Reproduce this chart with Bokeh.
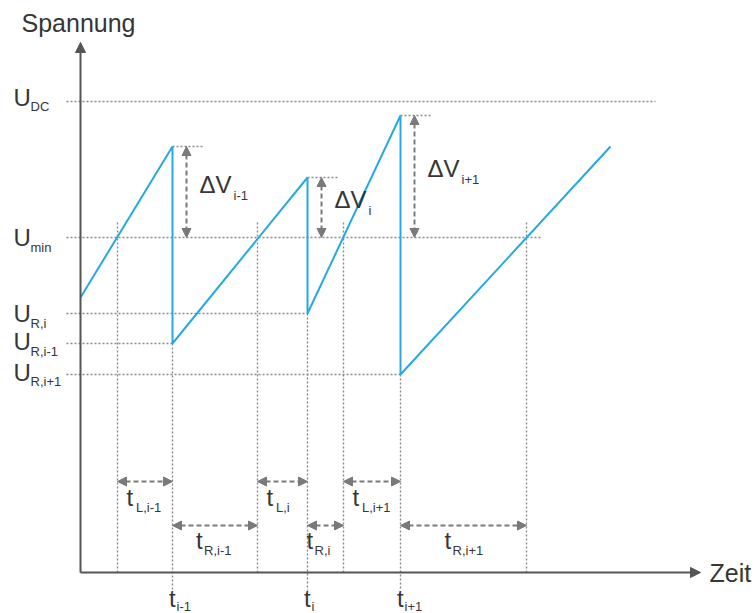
from bokeh.plotting import figure
from bokeh.models import Range1d, Arrow, NormalHead, ColumnDataSource
from bokeh.core.properties import value
from bokeh.embed import file_html
from bokeh.resources import INLINE

# Schematic voltage waveform (arbitrary units, origin at the axis crossing)
t_switch = [9.2, 22.7, 32.0]          # t_{i-1}, t_i, t_{i+1}
t_begin = 0.0
t_finish = 53.0
u_begin = 27.5
u_finish = 42.6
u_dc = 47.1
u_min = 33.5
u_peak = [42.6, 39.5, 45.7]           # voltage just before each switching instant
u_reset = [22.9, 25.9, 19.8]          # U_R,i-1, U_R,i, U_R,i+1
t_cross = [3.7, 17.7, 26.3, 44.6]     # instants where the ramp reaches U_min
switch_names = ["i-1", "i", "i+1"]
reset_names = ["R,i-1", "R,i", "R,i+1"]
left_names = ["L,i-1", "L,i", "L,i+1"]
delta_names = ["i-1", "i", "i+1"]

FONT = value("Liberation Sans")
TEXT = "#363636"
BLUE = "#26a9e1"
GREY = "#8a8a8a"
DARK = "#555555"

p = figure(width=755, height=613, output_backend="svg", toolbar_location=None,
           x_range=Range1d(-8.0, 67.5), y_range=Range1d(-4.1, 57.2),
           min_border=0)
p.axis.visible = False
p.grid.visible = False
p.outline_line_color = None
p.background_fill_color = "white"

dot = dict(line_color=GREY, line_width=1.4, line_dash="2 2")

# horizontal reference levels
p.segment(x0=[-1.4], y0=[u_dc], x1=[57.5], y1=[u_dc], **dot)
p.segment(x0=[-1.4], y0=[u_min], x1=[46.0], y1=[u_min], **dot)
for ts, ur in zip(t_switch, u_reset):
    p.segment(x0=[-1.4], y0=[ur], x1=[ts], y1=[ur], **dot)

# peak markers
for ts, up in zip(t_switch, u_peak):
    p.segment(x0=[ts], y0=[up], x1=[ts + 3.0], y1=[up], **dot)

# vertical guides at the switching instants and at the U_min crossings
for ts, ur in zip(t_switch, u_reset):
    p.segment(x0=[ts], y0=[ur], x1=[ts], y1=[-1.8], **dot)
for tc in t_cross:
    p.segment(x0=[tc], y0=[u_min + 1.5], x1=[tc], y1=[0], **dot)

# waveform
wx = [t_begin]
wy = [u_begin]
for ts, up, ur in zip(t_switch, u_peak, u_reset):
    wx += [ts, ts]
    wy += [up, ur]
wx.append(t_finish)
wy.append(u_finish)
p.line(wx, wy, line_color=BLUE, line_width=2)

# axes with arrow heads
p.add_layout(Arrow(x_start=0, y_start=0, x_end=0, y_end=53.0,
                   line_color=DARK, line_width=2,
                   end=NormalHead(size=10, fill_color=DARK, line_color=DARK)))
p.add_layout(Arrow(x_start=0, y_start=0, x_end=62.0, y_end=0,
                   line_color=DARK, line_width=2,
                   end=NormalHead(size=10, fill_color=DARK, line_color=DARK)))


def dim_arrow(x0, y0, x1, y1):
    p.add_layout(Arrow(x_start=x0, y_start=y0, x_end=x1, y_end=y1,
                       line_color="#7a7a7a", line_width=2, line_dash="5 3",
                       start=NormalHead(size=9, fill_color="#7a7a7a", line_color="#7a7a7a"),
                       end=NormalHead(size=9, fill_color="#7a7a7a", line_color="#7a7a7a")))


# ΔV arrows
for ts, up in zip(t_switch, u_peak):
    dim_arrow(ts + 1.4, up, ts + 1.4, u_min)

# t_L and t_R arrows
y_l = 9.1
y_r = 4.7
for tc, ts in zip(t_cross[:3], t_switch):
    dim_arrow(tc, y_l, ts, y_l)
for ts, tc in zip(t_switch, t_cross[1:]):
    dim_arrow(ts, y_r, tc, y_r)

# texts: a large symbol with a smaller subscript beside it
main = dict(x=[], y=[], text=[], size=[])
sub = dict(x=[], y=[], text=[])


def label(x, y, big, small, size="24px", gap=1.7, drop=0.95):
    main["x"].append(x)
    main["y"].append(y)
    main["text"].append(big)
    main["size"].append(size)
    sub["x"].append(x + gap)
    sub["y"].append(y - drop)
    sub["text"].append(small)


label(-6.7, u_dc + 0.4, "U", "DC", drop=0.85)
label(-6.7, u_min, "U", "min")
for name, ur, lift in zip(reset_names, u_reset, [0.2, 0.0, 0.25]):
    label(-6.7, ur + lift, "U", name)
for name, ts in zip(switch_names, t_switch):
    label(ts - 0.35, -2.6, "t", name, gap=0.75, drop=0.8)
for name, tc in zip(left_names, t_cross[:3]):
    label(tc + 0.9, 7.5, "t", name, gap=0.95)
for name, ts, tc in zip(["R,i-1", "R,i", "R,i+1"], t_switch, t_cross[1:]):
    label(ts + (tc - ts) / 2 - 1.9, 3.2, "t", name, gap=0.8)
for name, ts, up in zip(delta_names, t_switch, u_peak):
    label(ts + 2.7, (up + u_min) / 2 + 0.8, "ΔV", name, gap=3.4, drop=1.1)

p.text(x="x", y="y", text="text", source=ColumnDataSource(main),
       text_font=FONT, text_font_size="size", text_color=TEXT,
       text_baseline="middle", text_align="left")
p.text(x="x", y="y", text="text", source=ColumnDataSource(sub),
       text_font=FONT, text_font_size="13px", text_color=TEXT,
       text_baseline="middle", text_align="left")

p.text(x=[-0.2], y=[55.0], text=["Spannung"], text_font=FONT,
       text_font_size="25px", text_color=TEXT, text_align="center",
       text_baseline="middle")
p.text(x=[62.9], y=[0.0], text=["Zeit"], text_font=FONT,
       text_font_size="25px", text_color=TEXT, text_align="left",
       text_baseline="middle")

open("out.html", "w").write(file_html(p, INLINE))
